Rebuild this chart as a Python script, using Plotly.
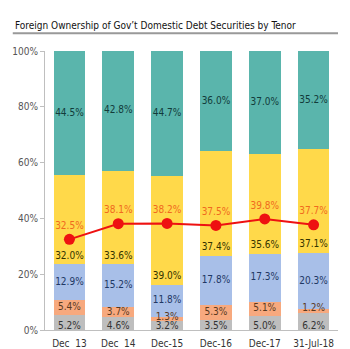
import plotly.graph_objects as go

categories = ["Dec  13", "Dec  14", "Dec-15", "Dec-16", "Dec-17", "31-Jul-18"]
gray_vals = [5.2, 4.6, 3.2, 3.5, 5.0, 6.2]
orange_vals = [5.4, 3.7, 1.3, 5.3, 5.1, 1.2]
blue_vals = [12.9, 15.2, 11.8, 17.8, 17.3, 20.3]
yellow_vals = [32.0, 33.6, 39.0, 37.4, 35.6, 37.1]
teal_vals = [44.5, 42.8, 44.7, 36.0, 37.0, 35.2]
foreign_share = [32.5, 38.1, 38.2, 37.5, 39.8, 37.7]
y_ticks = [0, 20, 40, 60, 80, 100]

font_family = "DejaVu Sans Condensed, Liberation Sans, Arial"

series = [
    ("gray", gray_vals, "#BEBEBE", "#333333"),
    ("orange", orange_vals, "#F7A97E", "#5A3A1E"),
    ("blue", blue_vals, "#A8BFE8", "#1F3864"),
    ("yellow", yellow_vals, "#FFD94A", "#333300"),
    ("teal", teal_vals, "#5AB5AC", "#123B3A"),
]

fig = go.Figure()
base = [0.0] * len(categories)
label_x, label_y, label_t, label_c = [], [], [], []
for name, vals, color, tcolor in series:
    fig.add_trace(go.Bar(x=categories, y=vals, name=name, marker_color=color,
                         marker_line_width=0, hoverinfo="skip"))
    for i, v in enumerate(vals):
        if name == "gray":
            pos = base[i] + 1.2
        elif name == "yellow":
            pos = base[i] + 3.0
        elif name == "orange" and v < 2:
            pos = base[i] + v / 2 + 0.8
        else:
            pos = base[i] + v / 2
        label_x.append(categories[i])
        label_y.append(pos)
        label_t.append(f"{v:.1f}%")
        label_c.append(tcolor)
    base = [b + v for b, v in zip(base, vals)]

fig.add_trace(go.Scatter(x=label_x, y=label_y, text=label_t, mode="text",
                         textfont=dict(color=label_c, size=10, family=font_family),
                         hoverinfo="skip", showlegend=False))

fig.add_trace(go.Scatter(x=categories, y=foreign_share, mode="lines+markers+text",
                         line=dict(color="#EE1111", width=2),
                         marker=dict(color="#EE1111", size=11),
                         text=[f"{v:.1f}%" for v in foreign_share],
                         textposition="top center",
                         textfont=dict(color="#F06A1E", size=10, family=font_family),
                         hoverinfo="skip", showlegend=False))

fig.update_layout(
    barmode="stack",
    bargap=0.35,
    width=350, height=349,
    margin=dict(l=45, r=12, t=51, b=19),
    paper_bgcolor="white", plot_bgcolor="white",
    showlegend=False,
    font=dict(family=font_family, size=10, color="#333333"),
)
fig.update_yaxes(range=[0, 100], tickvals=y_ticks, ticktext=[f"{t}%" for t in y_ticks],
                 showgrid=False, showline=True, linecolor="#BFBFBF", linewidth=1,
                 ticks="outside", tickcolor="#BFBFBF", ticklen=4, automargin=False,
                 tickfont=dict(color="#555555", size=10), zeroline=False)
fig.update_xaxes(showline=True, linecolor="#BFBFBF", linewidth=1, showgrid=False,
                 ticklabelstandoff=4, automargin=False,
                 tickfont=dict(color="#333333", size=10))

fig.add_annotation(text="Foreign Ownership of Gov\u2019t Domestic Debt Securities by Tenor",
                   xref="paper", yref="paper", x=-0.11, y=1.093, xanchor="left", yanchor="middle",
                   showarrow=False, font=dict(size=10, color="#111111", family=font_family))
fig.add_shape(type="line", xref="paper", yref="paper", x0=-0.11, x1=1.0, y0=1.064, y1=1.064,
              line=dict(color="#999999", width=2))

fig.write_html("out.html")
